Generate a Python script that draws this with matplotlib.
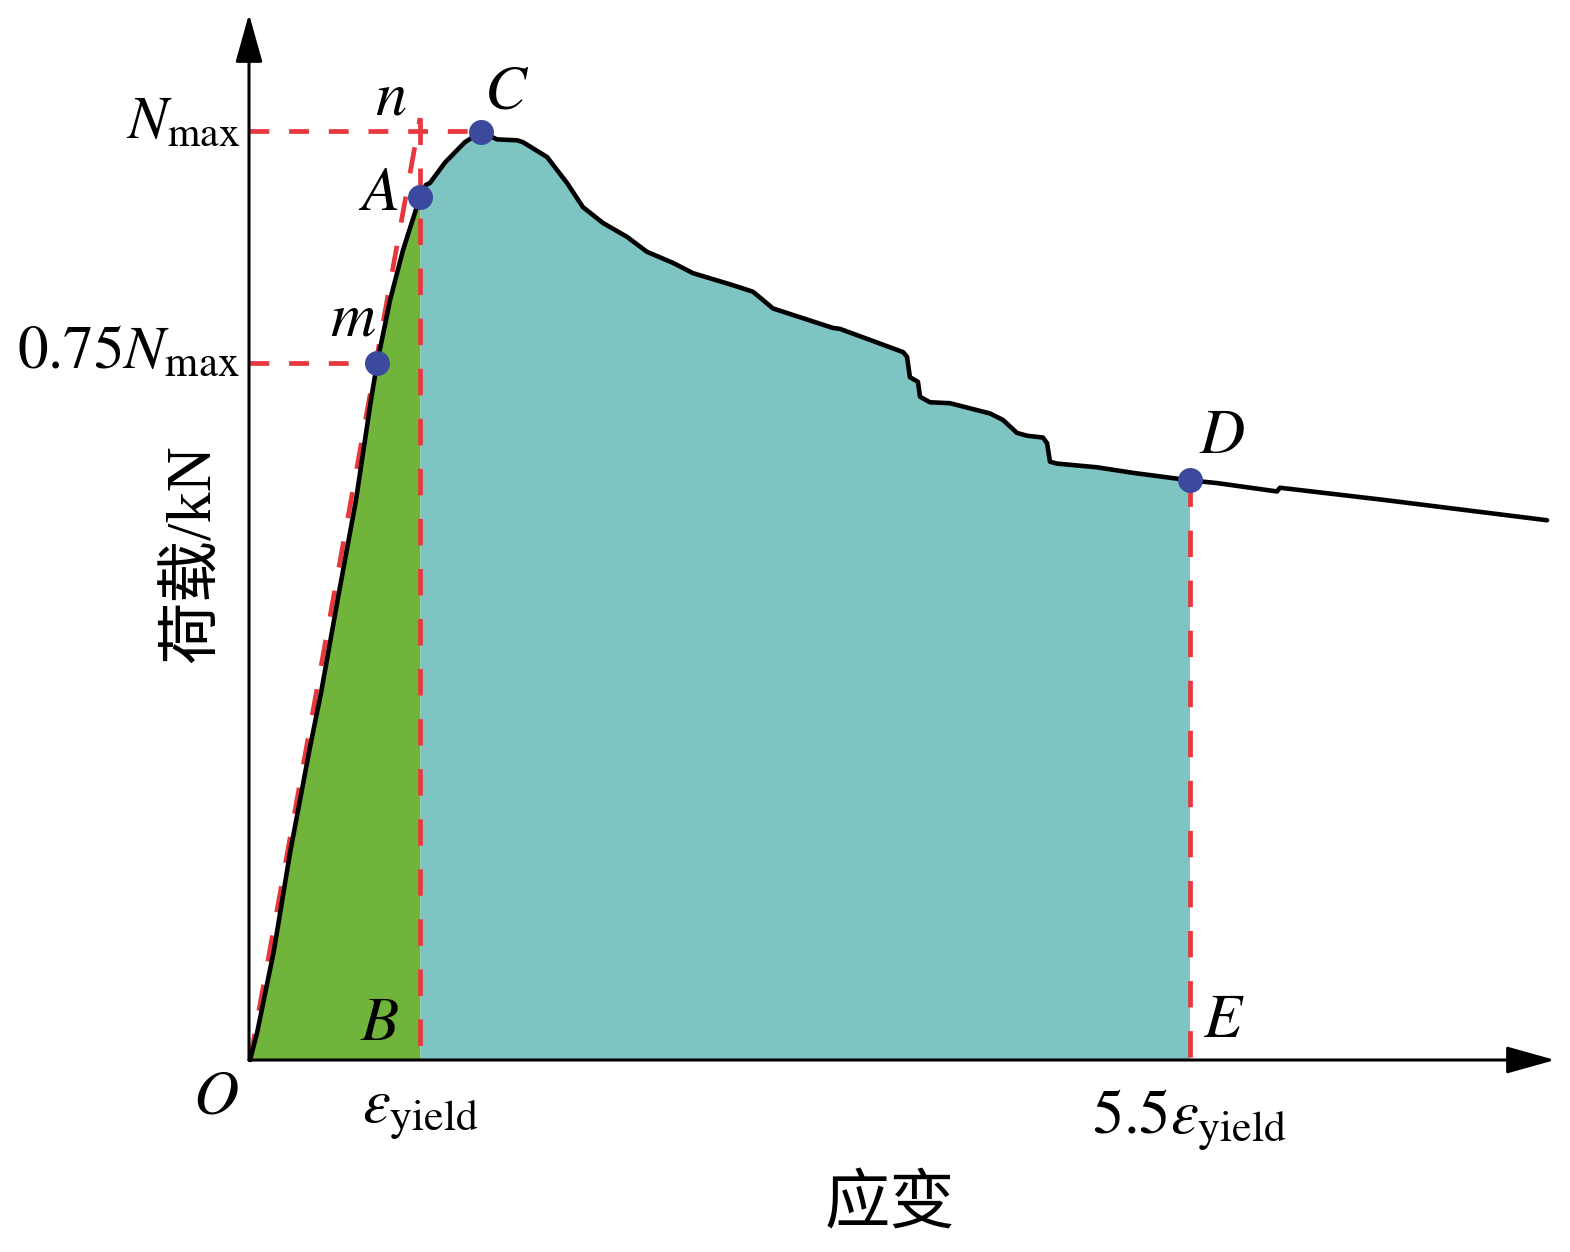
import numpy as np
import matplotlib
matplotlib.use("Agg")
import matplotlib.pyplot as plt

plt.rcParams['mathtext.fontset'] = 'stix'
plt.rcParams['font.family'] = ['Liberation Serif', 'Noto Sans CJK SC', 'DejaVu Sans']

# strain in units of eps_yield, load in units of N_max
strain = [0.006, 0.047, 0.146, 0.240, 0.357, 0.421, 0.526, 0.561, 0.626, 0.713, 0.749, 0.825,
          0.901, 1.0,
          1.035, 1.058, 1.146, 1.263, 1.357, 1.450, 1.567, 1.602, 1.743, 1.860, 1.953, 2.070,
          2.211, 2.327, 2.480, 2.596, 2.830, 2.947, 3.006, 3.064, 3.415, 3.456, 3.825, 3.848,
          3.865, 3.912, 3.924, 3.982, 4.099, 4.333, 4.409, 4.491, 4.550, 4.643, 4.667, 4.684,
          4.725, 4.959, 5.170, 5.5, 5.661, 6.012, 6.029, 6.632, 7.591]
load = [0.0, 0.029, 0.118, 0.223, 0.337, 0.395, 0.503, 0.538, 0.603, 0.710, 0.750, 0.818,
        0.872, 0.929,
        0.942, 0.944, 0.966, 0.988, 0.999, 0.991, 0.990, 0.988, 0.972, 0.944, 0.918, 0.901,
        0.886, 0.870, 0.858, 0.847, 0.834, 0.827, 0.818, 0.809, 0.788, 0.787, 0.762, 0.757,
        0.735, 0.730, 0.714, 0.708, 0.707, 0.696, 0.689, 0.675, 0.672, 0.670, 0.664, 0.644,
        0.642, 0.638, 0.632, 0.624, 0.621, 0.612, 0.616, 0.603, 0.581]

eps_yield = 1.0
eps_ult = 5.5
n_max = 1.0
n_075 = 0.75
pt_names = ['m', 'A', 'C', 'D']
pt_strain = [0.749, 1.0, 1.357, 5.5]
pt_load = [0.750, 0.929, 0.999, 0.624]
n_point = (1.0, 1.014)

RED = '#e8383d'
GREEN = '#70b43c'
TEAL = '#7dc4c3'
BLUE = '#3b4a9d'

fig = plt.figure(figsize=(15.7, 12.52), dpi=100)
ax = fig.add_axes([0, 0, 1, 1])
ax.set_xlim(-249 / 171, (1570 - 249) / 171)
ax.set_ylim(-(1252 - 1060) / 929, 1060 / 929)
ax.axis('off')

# fills
xs1 = np.linspace(0, eps_yield, 300)
ax.fill_between(xs1, 0, np.interp(xs1, strain, load), color=GREEN, lw=0, zorder=1)
xs2 = np.linspace(eps_yield, eps_ult, 800)
ax.fill_between(xs2, 0, np.interp(xs2, strain, load), color=TEAL, lw=0, zorder=1)

# dashed reference lines
hdash = dict(color=RED, lw=3.4, linestyle=(0, (4.2, 4.2)), zorder=3)
vdash = dict(color=RED, lw=3.4, linestyle=(0, (5.6, 5.0)), zorder=3)
ax.plot([0, pt_strain[2]], [n_max, n_max], **hdash)
ax.plot([0, pt_strain[0]], [n_075, n_075], **hdash)
ax.plot([0.006, n_point[0]], [0, n_point[1]], **vdash)
ax.plot([eps_yield, eps_yield], [n_point[1], 0], **vdash)
ax.plot([eps_ult, eps_ult], [pt_load[3], 0], **vdash)

# curve
ax.plot(strain, load, color='black', lw=3.3, zorder=4, solid_capstyle='round',
        solid_joinstyle='round')

# axes with arrows
ap = dict(arrowstyle='-|>,head_length=1.5,head_width=0.42', lw=2.2, color='black',
          shrinkA=0, shrinkB=0, mutation_scale=20)
ax.annotate('', xy=((1555 - 249) / 171, 0), xytext=(0, 0), arrowprops=ap, zorder=5)
ax.annotate('', xy=(0, (1060 - 14) / 929), xytext=(0, 0), arrowprops=ap, zorder=5)

# points
ax.plot(pt_strain, pt_load, 'o', color=BLUE, ms=18, mec='none', zorder=6)

FS = 45
def lab(txt, xy, off, ha='center', va='center', fs=FS):
    ax.annotate(txt, xy=xy, xytext=(off[0] * 0.72, off[1] * 0.72), textcoords='offset points',
                ha=ha, va=va, fontsize=fs, zorder=7)

lab(r'$m$', (pt_strain[0], pt_load[0]), (-24, 43))
lab(r'$A$', (pt_strain[1], pt_load[1]), (-42, 2))
lab(r'$C$', (pt_strain[2], pt_load[2]), (25, 38))
lab(r'$D$', (pt_strain[3], pt_load[3]), (33, 42))
lab(r'$n$', n_point, (-29, 18))
lab(r'$B$', (eps_yield, 0), (-40, 35))
lab(r'$E$', (eps_ult, 0), (34, 38))
lab(r'$O$', (0, 0), (-33, -38))
lab(r'$N_{\mathrm{max}}$', (0, n_max), (-9, -7), ha='right', va='baseline', fs=43)
lab(r'$0.75N_{\mathrm{max}}$', (0, n_075), (-9, -5), ha='right', va='baseline', fs=44)
lab(r'$\varepsilon_{\mathrm{yield}}$', (eps_yield, 0), (0, -52))
lab(r'$5.5\varepsilon_{\mathrm{yield}}$', (eps_ult, 0), (0, -60))

ax.text(-54 / 171, 0.545, '荷载/kN', rotation=90, ha='center', va='center', fontsize=45)
ax.text((890 - 249) / 171, -(1207 - 1060) / 929, '应变', ha='center', va='center', fontsize=47)

fig.savefig('out.png', dpi=100)
